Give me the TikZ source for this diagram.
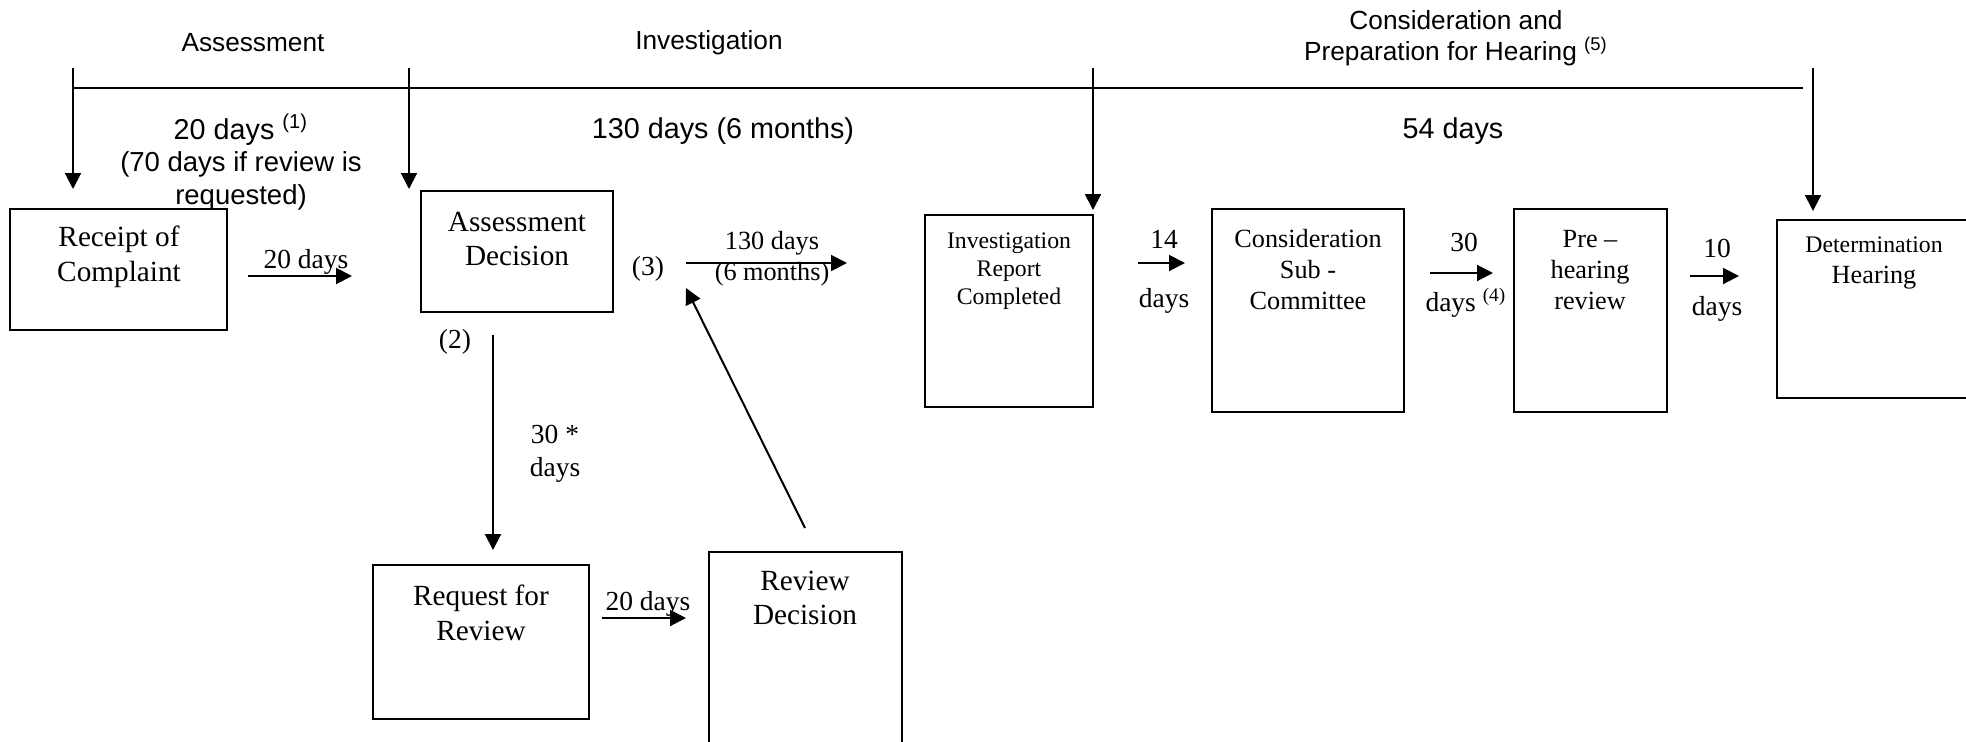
\documentclass[tikz,border=0pt]{standalone}
\usepackage{fontspec}
\setmainfont{Liberation Serif}
\newfontfamily\arialfont{Liberation Sans}
\usepackage{tikz}
\usetikzlibrary{arrows.meta}
\usetikzlibrary{fit}

\begin{document}
\begin{tikzpicture}[x=0.4pt, y=-0.4pt,
	box/.style={draw, line width=0.9pt, inner sep=0pt},
	arr/.style={line width=0.8pt, -{Triangle[length=6.4pt,width=6.4pt]}},
	phasehead/.style={font=\arialfont\fontsize{10.5}{12.6}\selectfont, align=center},
	periodlabel/.style={font=\arialfont\fontsize{11.5}{13}\selectfont, align=center},
	bigtxt/.style={font=\fontsize{11.7}{13.8}\selectfont, align=center},
	smalltxt/.style={font=\fontsize{10.5}{12.4}\selectfont, align=center},
	tinytxt/.style={font=\fontsize{9.5}{11.2}\selectfont, align=center},
	daytxt/.style={font=\fontsize{11}{13}\selectfont, align=center}]

	\useasboundingbox (0,0) rectangle (1966,741);

	\node[phasehead] (h-ass) at (253,43) {Assessment};
	\node[phasehead] (h-inv) at (709,43) {Investigation};
	\node[phasehead] (h-con) at (1456,38) {Consideration and\\Preparation for Hearing \textsuperscript{(5)}};

	\coordinate (line-l) at (73,88);
	\coordinate (line-r) at (1803,88);
	\draw[line width=0.8pt] (line-l) -- (line-r);
	\foreach \n/\x/\y in {1/73/189, 2/409/189, 3/1093/210, 4/1813/211}{
		\coordinate (m\n-s) at (\x,68);
		\coordinate (m\n-e) at (\x,\y);
		\draw[arr] (m\n-s) -- (m\n-e);
	}

	\node[periodlabel] (p-ass) at (241,162) {20 days \textsuperscript{(1)}\\{\fontsize{11}{12}\selectfont (70 days if review is}\\{\fontsize{11}{12}\selectfont requested)}};
	\node[periodlabel] (p-inv) at (723,131) {130 days (6 months)};
	\node[periodlabel] (p-con) at (1453,131) {54 days};

	\node[box, fit={(10,209) (227,330)}] (rec) {};
	\node[bigtxt] (rec-t) at (119,257) {Receipt of\\Complaint};
	\node[box, fit={(421,191) (613,312)}] (ad) {};
	\node[bigtxt] (ad-t) at (517,239) {Assessment\\Decision};
	\node[box, fit={(373,565) (589,719)}] (req) {};
	\node[bigtxt] (req-t) at (481,613) {Request for\\Review};
	\node[box, fit={(709,552) (902,770)}] (rd) {};
	\node[bigtxt] (rd-t) at (805,598) {Review\\Decision};
	\node[box, fit={(925,215) (1093,407)}] (irc) {};
	\node[tinytxt] (irc-t) at (1009,271) {Investigation\\Report\\Completed};
	\node[box, fit={(1212,209) (1404,412)}] (csc) {};
	\node[smalltxt] (csc-t) at (1308,270) {Consideration\\Sub -\\Committee};
	\node[box, fit={(1514,209) (1667,412)}] (phr) {};
	\node[smalltxt] (phr-t) at (1590,270) {Pre --\\hearing\\review};
	\node[box, fit={(1777,220) (1975,398)}] (dh) {};
	\node[smalltxt] (dh-t) at (1874,263) {{\fontsize{9.5}{11}\selectfont Determination}\\Hearing};

	\coordinate (a1-s) at (248,276);
	\coordinate (a1-e) at (352,276);
	\draw[arr] (a1-s) -- (a1-e);
	\node[daytxt] (a1-t) at (306,262) {20 days};

	\node[daytxt] (n2) at (455,342) {(2)};
	\node[daytxt] (n3) at (648,269) {(3)};

	\coordinate (a2-s) at (686,263);
	\coordinate (a2-e) at (847,263);
	\draw[arr] (a2-s) -- (a2-e);
	\node[smalltxt] (a2-t) at (772,259) {130 days\\(6 months)};

	\coordinate (a3-s) at (493,335);
	\coordinate (a3-e) at (493,550);
	\draw[arr] (a3-s) -- (a3-e);
	\node[daytxt] (a3-t) at (555,454) {30 *\\days};

	\coordinate (a4-s) at (602,618);
	\coordinate (a4-e) at (686,618);
	\draw[arr] (a4-s) -- (a4-e);
	\node[daytxt] (a4-t) at (648,604) {20 days};

	\coordinate (a5-s) at (805,528);
	\coordinate (a5-e) at (686,288);
	\draw[arr] (a5-s) -- (a5-e);

	\coordinate (a6-s) at (1138,263);
	\coordinate (a6-e) at (1185,263);
	\draw[arr] (a6-s) -- (a6-e);
	\node[daytxt] (a6-t) at (1164,239) {14};
	\node[daytxt] (a6-b) at (1164,301) {days};

	\coordinate (a7-s) at (1430,273);
	\coordinate (a7-e) at (1493,273);
	\draw[arr] (a7-s) -- (a7-e);
	\node[daytxt] (a7-t) at (1464,242) {30};
	\node[daytxt] (a7-b) at (1466,303) {days \textsuperscript{(4)}};

	\coordinate (a8-s) at (1690,276);
	\coordinate (a8-e) at (1739,276);
	\draw[arr] (a8-s) -- (a8-e);
	\node[daytxt] (a8-t) at (1717,248) {10};
	\node[daytxt] (a8-b) at (1717,309) {days};
\end{tikzpicture}
\end{document}
